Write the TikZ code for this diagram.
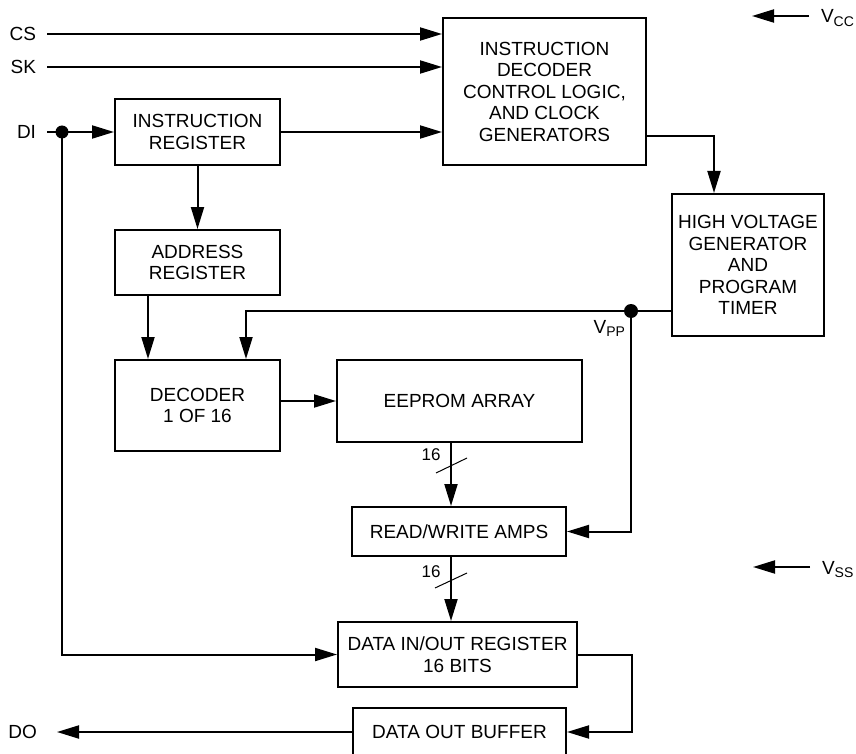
\documentclass[tikz,border=0pt]{standalone}
\usepackage{fontspec}
\setmainfont{Liberation Sans}
\usetikzlibrary{arrows.meta}
\newcommand\vsub[2]{#1\raisebox{-3.5pt}{\fontsize{14}{14}\selectfont #2}}
\begin{document}
\begin{tikzpicture}[x=1pt,y=-1pt,
  line width=2pt,
  box/.style={draw, rectangle, inner sep=0pt, align=center, font=\fontsize{19}{21.5}\selectfont},
  lbl/.style={inner sep=0pt, font=\fontsize{19}{21.5}\selectfont},
  buslbl/.style={inner sep=0pt, font=\fontsize{17}{17}\selectfont},
  arr/.style={-{Triangle[length=22pt,width=13pt]}},
  bus/.style={line width=1pt},
]
\useasboundingbox (0,0) rectangle (856,754);
\clip (0,0) rectangle (856,754);

% blocks
\node[box, minimum width=203pt, minimum height=147pt] (ID) at (544.5,91.5) {INSTRUCTION\\DECODER\\CONTROL LOGIC,\\AND CLOCK\\GENERATORS};
\node[box, minimum width=165pt, minimum height=66pt] (IR) at (197.5,132) {INSTRUCTION\\REGISTER};
\node[box, minimum width=165pt, minimum height=65pt] (AR) at (197.5,262.5) {ADDRESS\\REGISTER};
\node[box, minimum width=165pt, minimum height=91pt] (DEC) at (197.5,405.5) {DECODER\\1 OF 16};
\node[box, minimum width=245pt, minimum height=82pt] (EE) at (459.5,401) {EEPROM ARRAY};
\node[box, minimum width=152pt, minimum height=142pt] (HV) at (748,265) {HIGH VOLTAGE\\GENERATOR\\AND\\PROGRAM\\TIMER};
\node[box, minimum width=214pt, minimum height=49pt] (RW) at (459,531.5) {READ/WRITE AMPS};
\node[box, minimum width=239pt, minimum height=65pt] (DIO) at (457.5,654.5) {DATA IN/OUT REGISTER\\16 BITS};
\node[box, minimum width=213pt, minimum height=48pt] (DOB) at (459.5,732) {DATA OUT BUFFER};

% pin labels
\node[lbl, anchor=east] (cs) at (37,34) {CS};
\node[lbl, anchor=east] (sk) at (37,67) {SK};
\node[lbl, anchor=east] (di) at (37,132) {DI};
\node[lbl, anchor=east] (dout) at (38,732) {DO};
\node[lbl, anchor=base west] (vcc) at (820,23) {\vsub{V}{CC}};
\node[lbl, anchor=base west] (vss) at (821,574) {\vsub{V}{SS}};
\node[lbl, anchor=base east] (vppl) at (626,333) {\vsub{V}{PP}};

% helper coordinates
\coordinate (dot) at (62,132);
\coordinate (vpp) at (631,311);
\coordinate (busx) at (451,480);
\coordinate (rtx) at (632,700);
\coordinate (vccA) at (809,16);
\coordinate (vccB) at (752,16);
\coordinate (vssA) at (810,567);
\coordinate (vssB) at (753,567);

% connectors
\draw[arr] ([xshift=10pt]cs.east) -- (cs.east -| ID.west);
\draw[arr] ([xshift=10pt]sk.east) -- (sk.east -| ID.west);
\draw[arr] ([xshift=10pt]di.east) -- (IR.west);
\draw[arr] (IR.east) -- (IR.east -| ID.west);
\draw[arr] (IR.south) -- (AR.north);
\draw[arr] ([xshift=34pt]AR.south west) -- ([xshift=34pt]DEC.north west);
\draw[arr] (HV.west |- vpp) -- (vpp) -| ([xshift=132pt]DEC.north west);
\draw[arr] (vpp) |- (RW.east);
\draw[arr] ([yshift=-45pt]ID.east) -| ([xshift=-34pt]HV.north);
\draw[arr] (EE.west -| DEC.east) -- (EE.west);
\draw[arr] (EE.south -| busx) -- (RW.north -| busx);
\draw[arr] (RW.south -| busx) -- (DIO.north -| busx);
\draw[arr] (dot) |- (DIO.west);
\draw[arr] (DIO.east) -- (DIO.east -| rtx) |- (DOB.east);
\draw[arr] (DOB.west) -- ([xshift=19pt]dout.east);
\draw[arr] (vccA) -- (vccB);
\draw[arr] (vssA) -- (vssB);

% junction dots
\fill (dot) circle[radius=6.5pt];
\fill (vpp) circle[radius=7pt];

% bus width marks
\draw[bus] (436,473) -- (467,458);
\draw[bus] (435,588) -- (467,573);
\node[buslbl] (b1) at (431,455) {16};
\node[buslbl] (b2) at (431,572) {16};
\end{tikzpicture}
\end{document}
